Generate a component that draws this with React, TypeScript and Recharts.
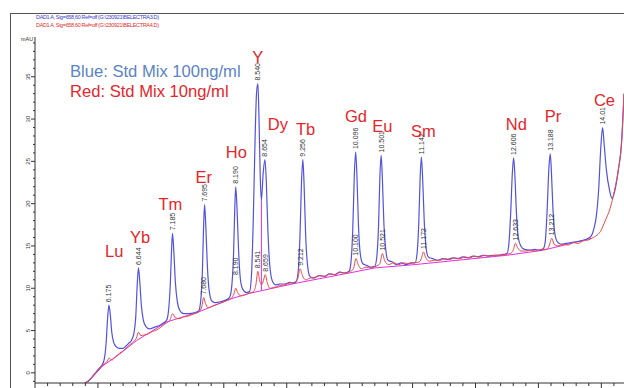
import { LineChart, Line, XAxis, YAxis, LabelList } from "recharts";

// time (min), signal (mAU)
const blueTrace: [number, number][] = [
  [5.79, -1.2], [5.84, -1.0], [5.95, -0.1], [6.02, 0.55],
  [6.06, 0.85], [6.1, 1.6], [6.13, 3.5], [6.155, 6.6], [6.175, 8.0], [6.195, 7.0], [6.22, 4.8], [6.25, 3.6], [6.29, 3.1], [6.34, 2.9], [6.4, 2.9], [6.45, 3.2], [6.49, 3.5],
  [6.53, 3.8], [6.57, 4.6], [6.6, 6.5], [6.625, 10.5], [6.644, 12.4], [6.665, 10.8], [6.69, 8.0], [6.72, 6.3], [6.76, 5.5], [6.82, 5.2], [6.9, 5.4], [6.98, 5.6], [7.04, 5.9],
  [7.09, 6.2], [7.12, 7.2], [7.15, 10.5], [7.17, 14.5], [7.185, 16.5], [7.205, 14.5], [7.23, 10.8], [7.26, 8.5], [7.3, 7.4], [7.36, 7.0], [7.45, 7.0], [7.53, 7.1],
  [7.6, 7.3], [7.63, 8.3], [7.66, 12], [7.68, 17.5], [7.695, 19.9], [7.715, 17.2], [7.74, 12.5], [7.77, 9.6], [7.81, 8.5], [7.87, 8.3], [7.95, 8.4], [8.03, 8.6],
  [8.09, 8.9], [8.12, 9.8], [8.155, 14], [8.175, 19.5], [8.19, 22.0], [8.21, 19.5], [8.235, 14.5], [8.265, 11], [8.3, 9.9], [8.36, 9.5],
  [8.41, 9.6], [8.44, 11.5], [8.47, 18.5], [8.5, 28.5], [8.52, 33], [8.542, 34.2], [8.56, 30], [8.58, 23], [8.598, 20.4], [8.625, 23.5], [8.654, 25.2], [8.675, 22.8], [8.7, 17], [8.73, 12.8], [8.77, 10.9], [8.83, 10.4], [8.9, 10.5], [8.97, 10.5], [9.05, 10.7], [9.1, 10.6],
  [9.15, 10.8], [9.18, 11.8], [9.21, 16], [9.235, 22.5], [9.256, 25.2], [9.275, 22.5], [9.3, 16.5], [9.33, 12.8], [9.37, 11.4], [9.43, 11.2], [9.52, 11.5], [9.6, 11.4], [9.68, 11.7], [9.76, 11.6], [9.84, 11.9], [9.92, 11.8],
  [9.99, 12.0], [10.02, 13], [10.05, 17], [10.075, 23.5], [10.096, 26.1], [10.115, 23.5], [10.14, 17.5], [10.17, 14], [10.21, 12.9], [10.27, 12.7], [10.33, 12.5],
  [10.4, 12.6], [10.43, 13.6], [10.46, 17.5], [10.48, 23], [10.501, 25.7], [10.52, 23], [10.545, 17.5], [10.575, 14.5], [10.61, 13.3], [10.68, 13.1], [10.74, 12.8], [10.82, 13.0], [10.9, 12.8], [10.97, 13.0],
  [11.04, 13.0], [11.07, 14], [11.1, 18], [11.12, 23], [11.14, 25.5], [11.16, 23], [11.185, 18], [11.215, 14.8], [11.25, 13.7], [11.32, 13.5], [11.4, 13.3], [11.48, 13.5], [11.56, 13.4], [11.64, 13.6], [11.72, 13.5], [11.8, 13.7], [11.88, 13.6], [11.96, 13.8], [12.04, 13.7], [12.12, 13.9], [12.2, 13.8], [12.28, 13.9], [12.36, 13.9], [12.44, 14.0],
  [12.5, 14.1], [12.53, 15.2], [12.56, 19], [12.585, 23.5], [12.606, 25.4], [12.625, 23.5], [12.65, 19], [12.68, 16], [12.72, 15], [12.78, 14.6], [12.86, 14.5], [12.94, 14.6], [13.02, 14.5],
  [13.08, 14.7], [13.11, 15.6], [13.14, 19.5], [13.165, 24], [13.188, 25.9], [13.205, 24], [13.23, 19.5], [13.26, 16.5], [13.3, 15.5], [13.36, 15.2], [13.44, 15.3], [13.52, 15.4], [13.6, 15.5], [13.68, 15.6], [13.76, 15.8],
  [13.84, 16.2], [13.88, 17.0], [13.92, 18.5], [13.96, 22], [13.99, 26.5], [14.02, 29.0], [14.045, 27], [14.08, 24], [14.13, 21.6], [14.17, 20.6], [14.21, 21.4], [14.27, 24], [14.32, 27.1], [14.36, 33],
];

const redTrace: [number, number][] = [
  [5.79, -1.2], [5.84, -1.0], [5.95, -0.1], [6.08, 0.95], [6.14, 1.3], [6.18, 1.75], [6.22, 1.5], [6.28, 1.9], [6.34, 2.3], [6.4, 2.6], [6.47, 3.1], [6.55, 3.6], [6.61, 4.1], [6.645, 4.8], [6.68, 4.4], [6.74, 4.5], [6.8, 4.6], [6.87, 4.9], [6.94, 5.1], [7.0, 5.4], [7.07, 5.8],
  [7.14, 6.2], [7.19, 7.0], [7.23, 6.5], [7.29, 6.4], [7.36, 6.6], [7.43, 6.7], [7.5, 6.9], [7.6, 7.2], [7.65, 7.8], [7.68, 8.9], [7.71, 8.2], [7.75, 7.7], [7.82, 7.9], [7.9, 8.1], [7.97, 8.3], [8.04, 8.5],
  [8.12, 8.8], [8.16, 9.3], [8.19, 10.0], [8.22, 9.5], [8.27, 9.1], [8.33, 9.2], [8.4, 9.4], [8.47, 9.6], [8.51, 10.4], [8.541, 12.0], [8.57, 10.9], [8.6, 10.4], [8.63, 10.9], [8.659, 11.6], [8.69, 10.7], [8.73, 10.0], [8.8, 10.1], [8.88, 10.3], [8.96, 10.4], [9.04, 10.6], [9.12, 10.7],
  [9.17, 11.0], [9.212, 12.3], [9.25, 11.5], [9.3, 11.0], [9.37, 11.2], [9.45, 11.3], [9.53, 11.5], [9.61, 11.4], [9.69, 11.7], [9.77, 11.6], [9.85, 11.9], [9.93, 11.8], [10.01, 12.0],
  [10.06, 12.3], [10.1, 13.5], [10.14, 12.7], [10.19, 12.3], [10.26, 12.5], [10.34, 12.4], [10.42, 12.6], [10.48, 12.9], [10.521, 14.1], [10.56, 13.2], [10.62, 12.8], [10.7, 13.0], [10.78, 12.8], [10.86, 13.0], [10.94, 12.9], [11.02, 13.0],
  [11.1, 13.1], [11.14, 13.5], [11.172, 14.3], [11.21, 13.6], [11.27, 13.2], [11.35, 13.3], [11.43, 13.3], [11.51, 13.5], [11.59, 13.4], [11.67, 13.6], [11.75, 13.5], [11.83, 13.7], [11.91, 13.6], [11.99, 13.8], [12.07, 13.7], [12.15, 13.9], [12.23, 13.8], [12.31, 13.9], [12.39, 13.9], [12.47, 14.0],
  [12.55, 14.1], [12.6, 14.5], [12.633, 15.3], [12.67, 14.8], [12.72, 14.4], [12.8, 14.4], [12.88, 14.5], [12.96, 14.4], [13.04, 14.6], [13.12, 14.6], [13.17, 15.0], [13.212, 15.9], [13.25, 15.2], [13.31, 15.0], [13.39, 15.2], [13.47, 15.1], [13.55, 15.4], [13.63, 15.3], [13.71, 15.6], [13.79, 15.7],
  [13.87, 16.0], [13.95, 16.4], [14.0, 16.9], [14.04, 17.6], [14.08, 18.3], [14.12, 19.0], [14.16, 20.0], [14.21, 21.6], [14.27, 24.0], [14.32, 27.1], [14.36, 33],
];

// integration baseline and the Y/Dy drop line
const integrationBaseline: [number, number][] = [
  [5.84, -1.1], [6.08, 0.85], [6.34, 2.2], [6.61, 3.8], [7.09, 6.0], [7.6, 7.2], [8.09, 8.7], [8.41, 9.4], [8.9, 10.2], [9.15, 10.6],
  [9.99, 11.8], [10.4, 12.4], [11.04, 12.8], [12.5, 13.9], [13.08, 14.5], [13.84, 15.9],
];
const dropLine: [number, number][] = [[8.598, 9.75], [8.598, 20.4]];

const elements = ["Lu", "Yb", "Tm", "Er", "Ho", "Y", "Dy", "Tb", "Gd", "Eu", "Sm", "Nd", "Pr", "Ce"];
const elementTime = [6.26, 6.67, 7.15, 7.68, 8.2, 8.54, 8.86, 9.3, 10.1, 10.52, 11.17, 12.65, 13.23, 14.05];
const elementLevel = [13.7, 15.4, 19.3, 22.4, 25.4, 36.6, 28.7, 28.1, 29.7, 28.5, 27.9, 28.7, 29.7, 31.5];

const blueRT = ["6.175", "6.644", "7.185", "7.695", "8.190", "8.540", "8.654", "9.256", "10.096", "10.501", "11.142", "12.606", "13.188", "14.01"];
const blueRTTime = [6.175, 6.644, 7.185, 7.695, 8.19, 8.542, 8.654, 9.256, 10.096, 10.501, 11.14, 12.606, 13.188, 14.02];
const blueTop = [8.0, 12.4, 16.5, 19.9, 22.0, 34.2, 25.2, 25.2, 26.1, 25.7, 25.5, 25.4, 25.9, 29.0];

const redRT = ["7.680", "8.190", "8.541", "8.659", "9.212", "10.100", "10.521", "11.172", "12.633", "13.212"];
const redRTTime = [7.68, 8.19, 8.541, 8.659, 9.212, 10.1, 10.521, 11.172, 12.633, 13.212];
const redTop = [8.9, 11.2, 12.0, 11.6, 12.3, 13.5, 14.1, 14.3, 15.3, 15.9];

const xMajor = [5, 6, 7, 8, 9, 10, 11, 12, 13, 14];
const yMajor = [0, 5, 10, 15, 20, 25, 30, 35];

const xTicks = Array.from({ length: 47 }, (_, i) => Math.round((5 + i * 0.2) * 10) / 10);
const yTicks = Array.from({ length: 41 }, (_, i) => i - 1);

const pts = (a: [number, number][]) => a.map(([t, v]) => ({ t, v }));
const labelPts = (time: number[], level: number[], text: string[]) =>
  time.map((t, i) => ({ t, v: level[i], text: text[i] }));

const FONT = "'Liberation Sans', Arial, sans-serif";
const BLUE = "#5252de";
const RED = "#ec4a4a";
const MAGENTA = "#e030e0";
const LABEL_RED = "#e4262c";

const XTick = (p: any) => {
  const v = p.payload.value;
  const major = xMajor.includes(v);
  return <line x1={p.x} y1={p.y} x2={p.x} y2={p.y + (major ? 5 : 3)} stroke="#333" strokeWidth={1} />;
};

const YTick = (p: any) => {
  const v = p.payload.value;
  const major = yMajor.includes(v);
  return (
    <g>
      <line x1={p.x} y1={p.y} x2={p.x - (major ? 4 : 2)} y2={p.y} stroke="#333" strokeWidth={1} />
      {major && (
        <text x={p.x - 5} y={p.y} transform={`rotate(-90 ${p.x - 5} ${p.y})`} textAnchor="middle" fontSize={6} fill="#333" fontFamily={FONT}>
          {v}
        </text>
      )}
    </g>
  );
};

const rtLabel = (color: string) => (p: any) => {
  const x = (p.x ?? p.viewBox?.x) + 2.5;
  const y = (p.y ?? p.viewBox?.y) - 3;
  return (
    <text x={x} y={y} transform={`rotate(-90 ${x} ${y})`} fontSize={7} fill={color} fontFamily={FONT}>
      {p.value}
    </text>
  );
};

const elementLabel = (p: any) => {
  const x = p.x ?? p.viewBox?.x;
  const y = p.y ?? p.viewBox?.y;
  return (
    <text x={x} y={y} textAnchor="middle" fontSize={16.5} fill={LABEL_RED} fontFamily={FONT}>
      {p.value}
    </text>
  );
};

export default function App() {
  return (
    <div style={{ position: "relative", width: 624, height: 388, background: "#fff" }}>
      <style>{"body{margin:0}"}</style>
      <LineChart width={624} height={388} margin={{ top: 37, right: 0, bottom: 0, left: 0 }} style={{ fontFamily: FONT }}>
        <XAxis
          type="number"
          dataKey="t"
          domain={[5, 14.36]}
          allowDataOverflow
          ticks={xTicks}
          interval={0}
          tick={<XTick />}
          tickLine={false}
          tickSize={0}
          tickMargin={0}
          height={5}
          axisLine={{ stroke: "#333" }}
        />
        <YAxis
          type="number"
          domain={[-1.2, 39.7]}
          allowDataOverflow
          ticks={yTicks}
          interval={0}
          tick={<YTick />}
          tickLine={false}
          tickSize={0}
          tickMargin={0}
          width={35}
          axisLine={{ stroke: "#333" }}
        />
        <Line data={pts(integrationBaseline)} dataKey="v" type="linear" stroke={MAGENTA} strokeWidth={1} dot={false} activeDot={false} isAnimationActive={false} />
        <Line data={pts(dropLine)} dataKey="v" type="linear" stroke={MAGENTA} strokeWidth={1} dot={false} activeDot={false} isAnimationActive={false} />
        <Line data={pts(blueTrace)} dataKey="v" type="monotone" stroke={BLUE} strokeWidth={1.2} dot={false} activeDot={false} isAnimationActive={false} />
        <Line data={pts(redTrace)} dataKey="v" type="monotone" stroke={RED} strokeWidth={1} dot={false} activeDot={false} isAnimationActive={false} />
        <Line data={labelPts(blueRTTime, blueTop, blueRT)} dataKey="v" stroke="none" dot={false} activeDot={false} isAnimationActive={false}>
          <LabelList dataKey="text" content={rtLabel("#333")} />
        </Line>
        <Line data={labelPts(redRTTime, redTop, redRT)} dataKey="v" stroke="none" dot={false} activeDot={false} isAnimationActive={false}>
          <LabelList dataKey="text" content={rtLabel("#333")} />
        </Line>
        <Line data={labelPts(elementTime, elementLevel, elements)} dataKey="v" stroke="none" dot={false} activeDot={false} isAnimationActive={false}>
          <LabelList dataKey="text" content={elementLabel} />
        </Line>
      </LineChart>
      <svg width={624} height={388} style={{ position: "absolute", left: 0, top: 0, pointerEvents: "none" }}>
        <line x1={10} y1={13.5} x2={624} y2={13.5} stroke="#555" />
        <line x1={10.5} y1={13} x2={10.5} y2={388} stroke="#555" />
        <text x={36} y={19} fontSize={5.5} fill="#3a3ad0" fontFamily={FONT} textLength={123}>
          {"DAD1 A, Sig=658,60 Ref=off (G:\\230921\\BELECTRA3.D)"}
        </text>
        <text x={36} y={27} fontSize={5.5} fill="#e03030" fontFamily={FONT} textLength={123}>
          {"DAD1 A, Sig=658,60 Ref=off (G:\\230921\\BELECTRA4.D)"}
        </text>
        <text x={21} y={41} fontSize={5.5} fill="#333" fontFamily={FONT}>mAU</text>
        <text x={70} y={77} fontSize={16.6} fill="#5b84c4" fontFamily={FONT}>Blue: Std Mix 100ng/ml</text>
        <text x={70} y={97} fontSize={16.6} fill={LABEL_RED} fontFamily={FONT}>Red: Std Mix 10ng/ml</text>
      </svg>
    </div>
  );
}
